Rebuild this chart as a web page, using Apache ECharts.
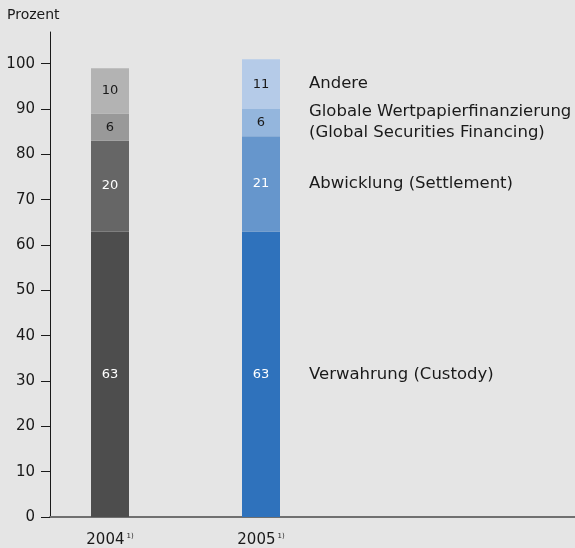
<!DOCTYPE html>
<html>
<head>
<meta charset="utf-8">
<script src="https://cdn.jsdelivr.net/npm/echarts@6/dist/echarts.min.js"></script>
<style>
html,body{margin:0;padding:0;background:#e5e5e5;}
#chart{width:575px;height:548px;}
</style>
</head>
<body>
<div id="chart"></div>
<script>
// ---- data ----
const years = ['2004', '2005'];
const seriesNames = [
  'Verwahrung (Custody)',
  'Abwicklung (Settlement)',
  'Globale Wertpapierfinanzierung\n(Global Securities Financing)',
  'Andere'
];
const custody = [63, 63];
const settlement = [20, 21];
const securitiesFinancing = [6, 6];
const other = [10, 11];
const yTicks = [0, 10, 20, 30, 40, 50, 60, 70, 80, 90, 100];

// ---- styles ----
const values = [custody, settlement, securitiesFinancing, other];
const colors = [
  ['#4d4d4d', '#666666', '#999999', '#b3b3b3'],
  ['#2f72bc', '#6696cc', '#94b6dd', '#b5cbe8']
];
const labelColors = ['#ffffff', '#ffffff', '#1a1a1a', '#1a1a1a'];
const FONT = 'DejaVu Sans';
const Y_MAX = 107;

// categories of the bar grid: the two years plus one empty slot to the right
const barCategories = years.concat(['']);

const series = values.map((vals, i) => ({
  type: 'bar',
  name: seriesNames[i],
  stack: 'total',
  barWidth: 38,
  xAxisIndex: 1,
  yAxisIndex: 1,
  data: vals.map((v, j) => ({
    value: v,
    itemStyle: { color: colors[j][i] }
  })),
  label: {
    show: true,
    position: 'inside',
    color: labelColors[i],
    fontFamily: FONT,
    fontSize: 13
  },
  emphasis: { disabled: true }
}));

// category names placed beside the last bar, at the middle of each segment
const last = years.length - 1;
let cum = 0;
const nameData = values.map((vals, i) => {
  const mid = cum + vals[last] / 2;
  cum += vals[last];
  return { value: [years[last], mid], name: seriesNames[i] };
});
series.push({
  type: 'scatter',
  xAxisIndex: 1,
  yAxisIndex: 1,
  symbolSize: 0,
  itemStyle: { opacity: 1 },
  data: nameData,
  label: {
    show: true,
    position: 'right',
    distance: 48,
    align: 'left',
    verticalAlign: 'middle',
    color: '#1a1a1a',
    opacity: 1,
    fontFamily: FONT,
    fontSize: 16.5,
    lineHeight: 21,
    formatter: p => p.name
  },
  emphasis: { disabled: true },
  silent: true
});

const chart = echarts.init(document.getElementById('chart'), null, { renderer: 'canvas' });
chart.setOption({
  backgroundColor: '#e5e5e5',
  animation: false,
  title: {
    text: 'Prozent',
    left: 7,
    top: 8,
    padding: 0,
    textStyle: { fontFamily: FONT, fontSize: 14, fontWeight: 'normal', color: '#1a1a1a' }
  },
  grid: [
    { left: 50, right: 0, top: 32, bottom: 31, containLabel: false, outerBoundsMode: 'none' },
    { left: 34.5, width: 453, top: 32, bottom: 31, containLabel: false, outerBoundsMode: 'none' }
  ],
  xAxis: [
    {
      gridIndex: 0,
      type: 'value',
      min: 0,
      max: 1,
      splitLine: { show: false },
      axisTick: { show: false },
      axisLabel: { show: false },
      axisLine: { show: true, onZero: false, lineStyle: { color: '#707070', width: 2 } }
    },
    {
      gridIndex: 1,
      type: 'category',
      data: barCategories,
      axisLine: { show: false },
      axisTick: { show: false },
      splitLine: { show: false },
      axisLabel: {
        margin: 16,
        color: '#1a1a1a',
        fontFamily: FONT,
        fontSize: 15,
        formatter: v => v ? v + '{s|1)}' : '',
        rich: { s: { fontSize: 7, fontFamily: FONT, color: '#1a1a1a', verticalAlign: 'top', padding: [0, 0, 8, 2] } }
      }
    }
  ],
  yAxis: [
    {
      gridIndex: 0,
      type: 'value',
      min: 0,
      max: Y_MAX,
      splitLine: { show: false },
      axisLine: { show: true, lineStyle: { color: '#1a1a1a', width: 1 } },
      axisTick: { show: true, customValues: yTicks, length: 9, lineStyle: { color: '#1a1a1a' } },
      axisLabel: {
        customValues: yTicks,
        margin: 15,
        color: '#1a1a1a',
        fontFamily: FONT,
        fontSize: 15
      }
    },
    {
      gridIndex: 1,
      type: 'value',
      min: 0,
      max: Y_MAX,
      show: false
    }
  ],
  series: series
});
</script>
</body>
</html>
